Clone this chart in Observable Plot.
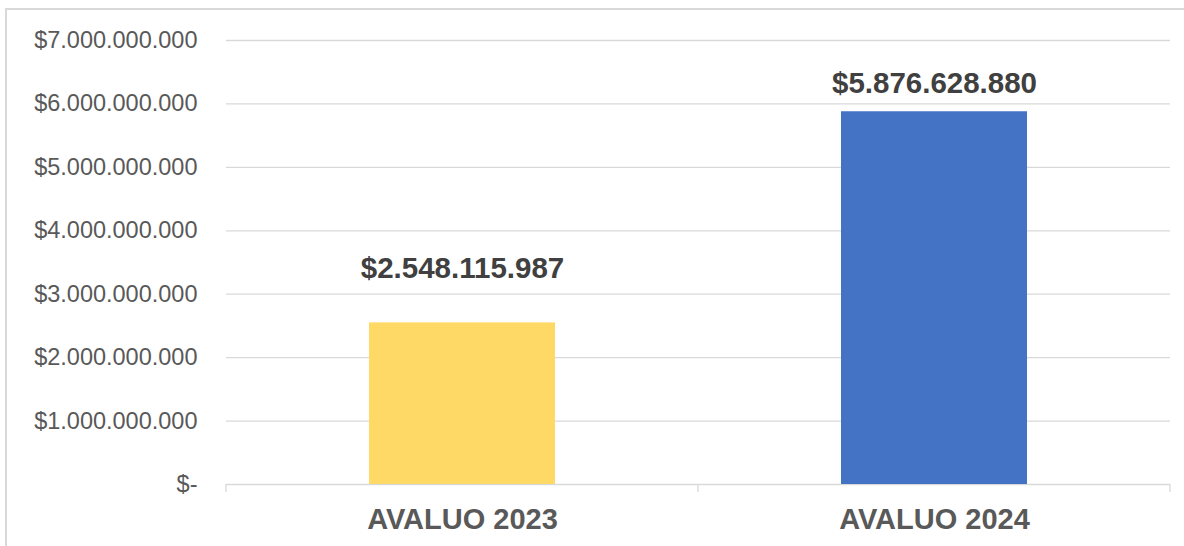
<!DOCTYPE html>
<html>
<head>
<meta charset="utf-8">
<script src="https://cdn.jsdelivr.net/npm/d3@7"></script>
<script src="https://cdn.jsdelivr.net/npm/@observablehq/plot@0.6"></script>
<style>
  html, body { margin: 0; padding: 0; background: #fff; }
  #wrap { position: relative; width: 1184px; height: 546px; overflow: hidden; }
  #border { position: absolute; left: 5px; top: 8px; right: -4px; bottom: -4px;
            border-left: 2px solid #d9d9d9; border-top: 2px solid #d9d9d9; pointer-events: none; }
  svg { font-family: "Liberation Sans", Arial, sans-serif; }
</style>
</head>
<body>
<div id="wrap"><div id="border"></div></div>
<script>
const categories = ["AVALUO 2023", "AVALUO 2024"];
const values = [2548115987, 5876628880];
const barColors = ["#FFD966", "#4472C4"];
const yTicks = [0, 1e9, 2e9, 3e9, 4e9, 5e9, 6e9, 7e9];

const data = categories.map((c, i) => ({cat: c, value: values[i], color: barColors[i]}));

const thousands = n => d3.format(",")(n).replace(/,/g, ".");
const money = n => n === 0 ? "$-" : "$" + thousands(n);

const chart = Plot.plot({
  width: 1184,
  height: 546,
  marginLeft: 226,
  marginRight: 14,
  marginTop: 40,
  marginBottom: 62,
  style: {fontFamily: "'Liberation Sans', Arial, sans-serif", background: "transparent"},
  x: {domain: categories, paddingInner: 0.606, paddingOuter: 0.303, label: null},
  y: {domain: [0, 7e9], ticks: yTicks, label: null},
  marks: [
    Plot.ruleY(yTicks, {stroke: "#d9d9d9", strokeWidth: 1.3}),
    Plot.barY(data, {x: "cat", y: "value", fill: "color"}),
    Plot.text(data.filter((d, i) => i === 0), {x: "cat", y: "value", text: d => money(d.value), dy: -54,
      fill: "#404040", fontWeight: "bold", fontSize: 29.5}),
    Plot.text(data.filter((d, i) => i === 1), {x: "cat", y: "value", text: d => money(d.value), dy: -28,
      fill: "#404040", fontWeight: "bold", fontSize: 29.5}),
    Plot.axisY(yTicks, {tickSize: 0, tickPadding: 29, tickFormat: money, fontSize: 23.5, fill: "#595959", label: null}),
    Plot.axisX({tickSize: 0, tickPadding: 24, fontSize: 29, fontWeight: "bold", fill: "#595959", label: null})
  ]
});

// boundary ticks on the category axis, derived from the x band scale
const sx = chart.scale("x");
const [r0, r1] = sx.range;
const bw = sx.bandwidth, step = sx.step;
const yBase = chart.scale("y").apply(0);
const bounds = [r0, ...categories.slice(0, -1).map(c => sx.apply(c) + bw + (step - bw) / 2), r1];
const g = d3.select(chart).append("g").attr("stroke", "#d9d9d9").attr("stroke-width", 1.3);
bounds.forEach(b => g.append("line").attr("x1", b).attr("x2", b).attr("y1", yBase).attr("y2", yBase + 8));

document.getElementById("wrap").prepend(chart);
</script>
</body>
</html>
